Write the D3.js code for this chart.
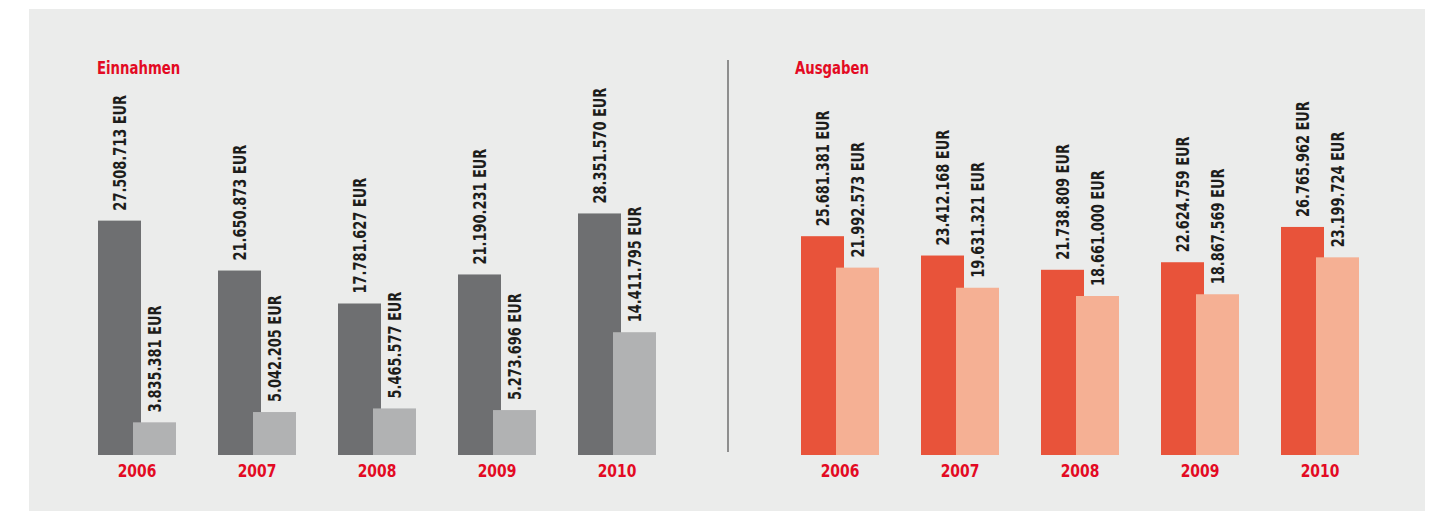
<!DOCTYPE html>
<html>
<head>
<meta charset="utf-8">
<script src="https://cdn.jsdelivr.net/npm/d3@7"></script>
<style>
  html, body { margin: 0; padding: 0; background: #ffffff; }
  svg { display: block; }
  text { font-family: "DejaVu Sans Condensed", "Liberation Sans Narrow", "Arial Narrow", sans-serif; font-weight: bold; }
</style>
</head>
<body>
<svg id="chart" width="1430" height="511"></svg>
<script>
// Budget figures per year, in EUR
const years = ["2006", "2007", "2008", "2009", "2010"];
const einnahmenA = [27508713, 21650873, 17781627, 21190231, 28351570];
const einnahmenB = [3835381, 5042205, 5465577, 5273696, 14411795];
const ausgabenA = [25681381, 23412168, 21738809, 22624759, 26765962];
const ausgabenB = [21992573, 19631321, 18661000, 18867569, 23199724];
const panelTitles = ["Einnahmen", "Ausgaben"];

const fmt = v => d3.format(",")(v).replace(/,/g, ".") + " EUR";

const svg = d3.select("#chart");
const W = 1430, H = 511;
const squeeze = 0.8; // narrow the condensed face a little further

// light grey backdrop
svg.append("rect")
  .attr("x", 29).attr("y", 9)
  .attr("width", 1396).attr("height", H - 9)
  .attr("fill", "#ebeceb");

// shared value scale for both panels
const baseY = 455;
const y = d3.scaleLinear().domain([0, 30000000]).range([baseY, baseY - 255.6]);

const barW = 43, offset = 35;
const red = "#e30a23";

const panels = [
  { title: panelTitles[0], titleX: 97, a: einnahmenA, b: einnahmenB, left: 98, colA: "#6e6f71", colB: "#b1b2b3" },
  { title: panelTitles[1], titleX: 795, a: ausgabenA, b: ausgabenB, left: 801, colA: "#e8533a", colB: "#f5b094" }
];

panels.forEach(p => {
  const x = d3.scaleBand().domain(years).range([p.left, p.left + 600]).paddingInner(0).paddingOuter(0);
  const g = svg.append("g");

  g.append("text")
    .attr("transform", `translate(${p.titleX},74) scale(${squeeze + 0.02},1)`)
    .attr("fill", red)
    .attr("font-size", 18)
    .text(p.title);

  const rows = years.map((yr, i) => ({ yr, a: p.a[i], b: p.b[i] }));

  // primary bar (behind)
  g.selectAll(".barA").data(rows).join("rect")
    .attr("x", d => x(d.yr))
    .attr("y", d => y(d.a))
    .attr("width", barW)
    .attr("height", d => baseY - y(d.a))
    .attr("fill", p.colA);

  // secondary bar, overlapping in front
  g.selectAll(".barB").data(rows).join("rect")
    .attr("x", d => x(d.yr) + offset)
    .attr("y", d => y(d.b))
    .attr("width", barW)
    .attr("height", d => baseY - y(d.b))
    .attr("fill", p.colB);

  const labels = [];
  rows.forEach(d => {
    labels.push({ cx: x(d.yr) + barW / 2, top: y(d.a), v: d.a });
    labels.push({ cx: x(d.yr) + offset + barW / 2, top: y(d.b), v: d.b });
  });

  g.selectAll(".val").data(labels).join("text")
    .attr("transform", d => `translate(${d.cx},${d.top - 10}) rotate(-90) scale(${squeeze},1)`)
    .attr("dy", "0.36em")
    .attr("fill", "#1d1d1b")
    .attr("font-size", 18)
    .text(d => fmt(d.v));

  g.selectAll(".yr").data(rows).join("text")
    .attr("transform", d => `translate(${x(d.yr) + (offset + barW) / 2},477) scale(0.86,1)`)
    .attr("text-anchor", "middle")
    .attr("fill", red)
    .attr("font-size", 18)
    .text(d => d.yr);
});

// divider between panels
svg.append("line")
  .attr("x1", 728).attr("x2", 728)
  .attr("y1", 60).attr("y2", 452)
  .attr("stroke", "#6f6f6f")
  .attr("stroke-width", 1.5);
</script>
</body>
</html>
